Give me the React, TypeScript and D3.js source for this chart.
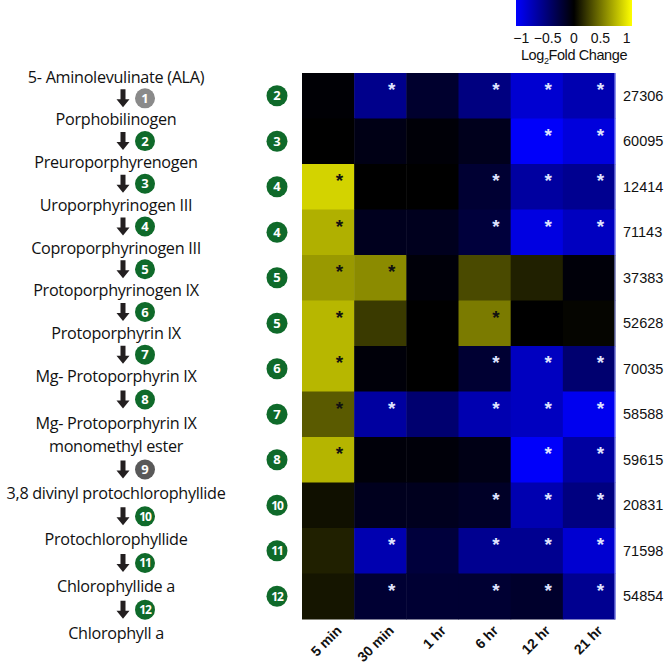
import React from 'react';
import * as d3 from 'd3';

// pathway on the left
const compounds: string[][] = [
  ['5- Aminolevulinate (ALA)'],
  ['Porphobilinogen'],
  ['Preuroporphyrenogen'],
  ['Uroporphyrinogen III'],
  ['Coproporphyrinogen III'],
  ['Protoporphyrinogen IX'],
  ['Protoporphyrin IX'],
  ['Mg- Protoporphyrin IX'],
  ['Mg- Protoporphyrin IX', 'monomethyl ester'],
  ['3,8 divinyl protochlorophyllide'],
  ['Protochlorophyllide'],
  ['Chlorophyllide a'],
  ['Chlorophyll a'],
];
const steps = [1, 2, 3, 4, 5, 6, 7, 8, 9, 10, 11, 12];
const greySteps: Record<number, string> = { 1: '#8a8a8a', 9: '#595959' };

// heatmap
const timepoints = ['5 min', '30 min', '1 hr', '6 hr', '12 hr', '21 hr'];
const geneIds = ['27306', '60095', '12414', '71143', '37383', '52628', '70035', '58588', '59615', '20831', '71598', '54854'];
const rowSteps = [2, 3, 4, 4, 5, 5, 6, 7, 8, 10, 11, 12];
const log2fc = [
  [-0.02, -0.6, -0.2, -0.55, -0.9, -0.76],
  [0, -0.09, -0.03, -0.12, -1.08, -0.95],
  [0.91, 0, 0, -0.22, -0.69, -0.62],
  [0.76, -0.13, -0.13, -0.26, -0.97, -0.83],
  [0.66, 0.6, -0.04, 0.32, 0.14, -0.04],
  [0.79, 0.25, 0, 0.53, 0, 0.02],
  [0.79, -0.04, 0, -0.22, -0.83, -0.48],
  [0.39, -0.69, -0.48, -0.76, -0.83, -1.03],
  [0.78, -0.04, -0.04, -0.09, -1.08, -0.69],
  [0.07, -0.13, -0.13, -0.17, -0.76, -0.55],
  [0.14, -0.76, -0.26, -0.62, -0.62, -0.9],
  [0.09, -0.22, -0.22, -0.22, -0.19, -0.62],
];
const significant = [
  [0, 1, 0, 1, 1, 1],
  [0, 0, 0, 0, 1, 1],
  [1, 0, 0, 1, 1, 1],
  [1, 0, 0, 1, 1, 1],
  [1, 1, 0, 0, 0, 0],
  [1, 0, 0, 1, 0, 0],
  [1, 0, 0, 1, 1, 1],
  [1, 1, 0, 1, 1, 1],
  [1, 0, 0, 0, 1, 1],
  [0, 0, 0, 1, 1, 1],
  [0, 1, 0, 1, 1, 1],
  [0, 1, 0, 1, 1, 1],
];
const legendTicks = [-1, -0.5, 0, 0.5, 1];

const GREEN = '#0f6a2a';
const humanist = '"Open Sans", "Noto Sans", sans-serif';
const arial = '"Liberation Sans", Arial, sans-serif';

export default function App() {
  const color = d3
    .scaleLinear<string>()
    .domain([-1.1, 0, 1.1])
    .range(['#0000ff', '#000000', '#ffff00'])
    .clamp(true);

  const x = d3.scaleBand<string>().domain(timepoints).range([302, 615]);
  const y = d3
    .scaleBand<string>()
    .domain(geneIds)
    .range([73, 619]);

  // compound centres
  const cy = d3.scaleLinear().domain([0, 7, 9, 12]).range([77, 376, 493, 633]);
  const lh = 23;
  const lineYs = compounds.map((lines, i) =>
    lines.map((_, j) => cy(i) + (j - (lines.length - 1) / 2) * lh)
  );
  const arrowYs = steps.map((_, i) => {
    const prev = lineYs[i][lineYs[i].length - 1];
    const next = lineYs[i + 1][0];
    return (prev + next) / 2;
  });

  const legX = d3.scaleLinear().domain([-1.1, 1.1]).range([516, 632]);
  const gradStops = d3.range(0, 1.0001, 0.1).map((t) => {
    const v = -1.1 + 2.2 * t;
    return { off: t, c: color(v) };
  });

  const ax = 123;
  const arrow = (yc: number) =>
    `M${ax - 2.5},${yc - 9} L${ax + 2.5},${yc - 9} L${ax + 2.5},${yc + 1} L${ax + 6.5},${yc + 1} L${ax},${yc + 9} L${ax - 6.5},${yc + 1} L${ax - 2.5},${yc + 1} Z`;

  return (
    <svg width={666} height={666} style={{ position: 'absolute', left: 0, top: 0, background: '#fff' }}>
      <defs>
        <linearGradient id="leg" x1="0" x2="1" y1="0" y2="0">
          {gradStops.map((s, i) => (
            <stop key={i} offset={s.off} stopColor={s.c} />
          ))}
        </linearGradient>
      </defs>

      {/* legend */}
      <rect x={legX(-1.1)} y={0} width={legX(1.1) - legX(-1.1)} height={26} fill="url(#leg)" />
      {legendTicks.map((t) => (
        <text key={t} x={legX(t)} y={43} textAnchor="middle" fontFamily={arial} fontSize={14} fill="#111">
          {t < 0 ? '\u2212' + Math.abs(t) : t}
        </text>
      ))}
      <text x={574} y={60} textAnchor="middle" fontFamily={arial} fontSize={14.5} fill="#111" letterSpacing={-0.4}>
        Log<tspan fontSize={9} dy={4}>2</tspan>
        <tspan dy={-4}>Fold Change</tspan>
      </text>

      {/* pathway */}
      {compounds.map((lines, i) =>
        lines.map((l, j) => (
          <text key={i + '-' + j} x={116} y={lineYs[i][j]} dy="0.35em" textAnchor="middle"
            fontFamily={humanist} fontSize={16.2} fill="#111" letterSpacing={-0.3}>
            {l}
          </text>
        ))
      )}
      {steps.map((s, i) => (
        <g key={s}>
          <path d={arrow(arrowYs[i])} fill="#231f20" />
          <circle cx={145} cy={arrowYs[i]} r={10} fill={greySteps[s] || GREEN} />
          <text x={145} y={arrowYs[i]} dy="0.36em" textAnchor="middle" fontFamily={humanist}
            fontWeight="bold" fontSize={s >= 10 ? 12 : 13} fill="#fff" letterSpacing={s >= 10 ? -1 : 0}>
            {s}
          </text>
        </g>
      ))}

      {/* heatmap */}
      {geneIds.map((g, r) =>
        timepoints.map((t, c) => (
          <rect key={g + t} x={x(t)} y={y(g)} width={x.bandwidth() + 0.5} height={y.bandwidth() + 0.5}
            fill={color(log2fc[r][c])} />
        ))
      )}
      <line x1={615} x2={615} y1={73} y2={619} stroke="#9fa6ff" strokeWidth={1} />
      {geneIds.map((g, r) =>
        timepoints.map((t, c) =>
          significant[r][c] ? (
            <text key={'s' + g + t} x={x(t)! + x.bandwidth() * 0.72} y={y(g)! + 23} textAnchor="middle"
              fontFamily={arial} fontWeight="bold" fontSize={19}
              fill={log2fc[r][c] > 0 ? '#111' : '#dfe2ff'}>
              *
            </text>
          ) : null
        )
      )}

      {/* row step badges */}
      {geneIds.map((g, r) => (
        <g key={'b' + g}>
          <circle cx={277} cy={y(g)! + y.bandwidth() / 2} r={10.5} fill={GREEN} />
          <text x={277} y={y(g)! + y.bandwidth() / 2} dy="0.36em" textAnchor="middle" fontFamily={humanist}
            fontWeight="bold" fontSize={rowSteps[r] >= 10 ? 12 : 13} fill="#fff"
            letterSpacing={rowSteps[r] >= 10 ? -1 : 0}>
            {rowSteps[r]}
          </text>
        </g>
      ))}

      {/* gene ids */}
      {geneIds.map((g) => (
        <text key={'id' + g} x={623} y={y(g)! + y.bandwidth() / 2} dy="0.35em" fontFamily={arial}
          fontSize={14.5} fill="#111">
          {g}
        </text>
      ))}

      {/* time labels */}
      {timepoints.map((t) => (
        <text key={'t' + t} transform={`translate(${x(t)! + x.bandwidth() / 2 + 11},${628}) rotate(-45)`}
          textAnchor="end" dy="0.35em" fontFamily={arial} fontWeight="bold" fontSize={14} fill="#111">
          {t}
        </text>
      ))}
    </svg>
  );
}
